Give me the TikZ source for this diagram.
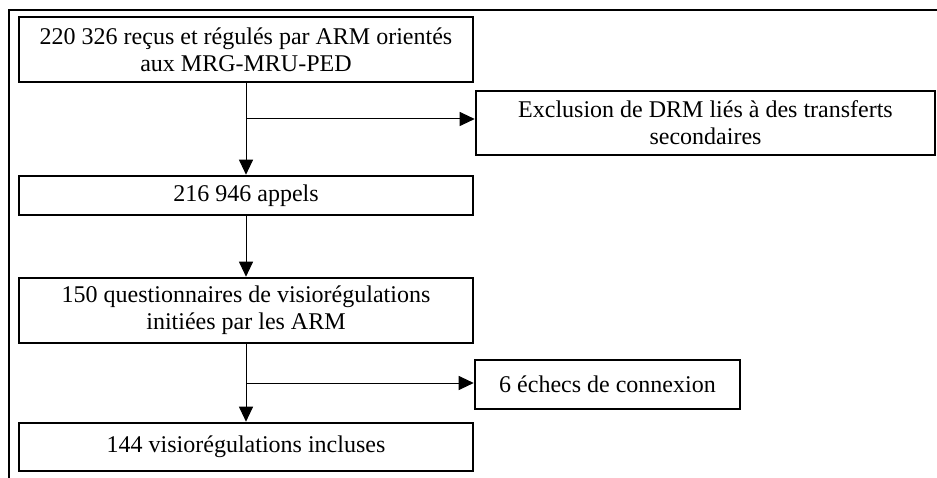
\documentclass[tikz,border=0pt]{standalone}
\usepackage{fontspec}
\setmainfont{Liberation Serif}
\usetikzlibrary{arrows.meta,positioning,shapes}

\begin{document}
\begin{tikzpicture}[x=1pt,y=-1pt]
			\tikzstyle{block} = [rectangle, draw, line width=2.6pt, align=center, inner sep=0pt, font=\fontsize{24}{27}\selectfont]
			\tikzstyle{arrow} = [draw, line width=1pt, -{Triangle[length=15pt,width=14pt]}]
			\useasboundingbox (0,0) rectangle (937,478);
			\draw[line width=2pt] (9,478) -- (9,10) -- (937,10);

			\node [block, minimum width=454pt, minimum height=65pt] (recus) at (246,49.5) {220 326 reçus et régulés par ARM orientés\\aux MRG-MRU-PED};
			\node [block, minimum width=459pt, minimum height=64pt] (exclusion) at (705.5,123) {Exclusion de DRM liés à des transferts\\secondaires};
			\node [block, minimum width=454pt, minimum height=39pt] (appels) at (246,195.5) {216 946 appels};
			\node [block, minimum width=454pt, minimum height=65pt] (questionnaires) at (246,310.5) {150 questionnaires de visiorégulations\\initiées par les ARM};
			\node [block, minimum width=265pt, minimum height=49pt] (echecs) at (607.5,384.5) {6 échecs de connexion};
			\node [block, minimum width=454pt, minimum height=48pt] (incluses) at (246,447) {144 visiorégulations incluses};

			\coordinate (split1) at (246,119);
			\coordinate (split2) at (246,383);

			\draw[arrow] (recus) -- (appels);
			\draw[arrow] (split1) -- (split1 -| exclusion.west);
			\draw[arrow] (appels) -- (questionnaires);
			\draw[arrow] (questionnaires) -- (incluses);
			\draw[arrow] (split2) -- (split2 -| echecs.west);
		\end{tikzpicture}
\end{document}
